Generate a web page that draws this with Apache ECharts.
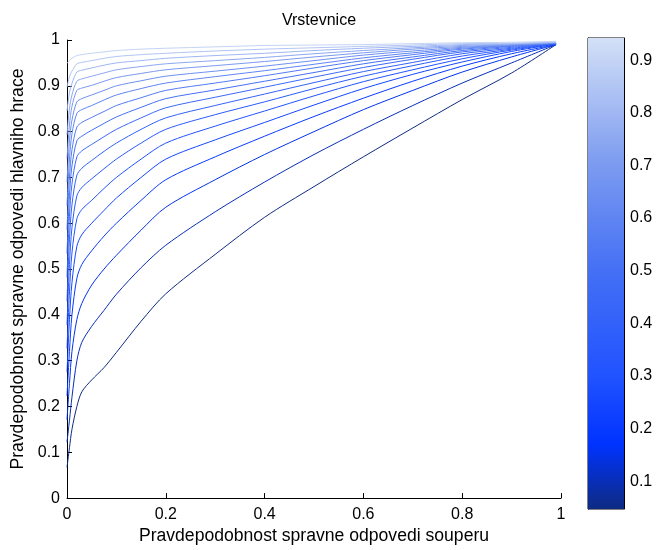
<!DOCTYPE html>
<html>
<head>
<meta charset="utf-8">
<title>Vrstevnice</title>
<script src="https://cdn.jsdelivr.net/npm/echarts@6/dist/echarts.min.js"></script>
<style>
  html, body { margin: 0; padding: 0; background: #fff; }
  #chart { width: 662px; height: 550px; }
</style>
</head>
<body>
<div id="chart"></div>
<script>
// x positions shared by all contour lines (opponent's probability)
var qGrid = [0, 0.005, 0.01, 0.02, 0.03, 0.05, 0.075, 0.1, 0.15, 0.2, 0.3, 0.4, 0.5, 0.6, 0.7, 0.8, 0.9, 0.99];

// contour levels, lowest (dark) to highest (light)
var levels = [0.05, 0.10, 0.15, 0.20, 0.25, 0.30, 0.35, 0.40, 0.45, 0.50, 0.55, 0.60, 0.65, 0.70, 0.75, 0.80, 0.85, 0.90];

// main player's probability along each contour
var line01 = [0.067, 0.11, 0.15, 0.20, 0.232, 0.258, 0.285, 0.318, 0.386, 0.446, 0.532, 0.613, 0.68, 0.745, 0.808, 0.87, 0.928, 0.99];
var line02 = [0.122, 0.17, 0.22, 0.30, 0.34, 0.375, 0.41, 0.445, 0.503, 0.552, 0.625, 0.69, 0.75, 0.805, 0.857, 0.906, 0.95, 0.99];
var line03 = [0.171, 0.25, 0.32, 0.39, 0.425, 0.465, 0.50, 0.53, 0.585, 0.635, 0.695, 0.75, 0.80, 0.848, 0.89, 0.93, 0.963, 0.99];
var line04 = [0.223, 0.32, 0.40, 0.48, 0.51, 0.54, 0.572, 0.60, 0.65, 0.695, 0.745, 0.79, 0.833, 0.873, 0.91, 0.943, 0.97, 0.99];
var line05 = [0.275, 0.39, 0.47, 0.55, 0.575, 0.60, 0.628, 0.655, 0.70, 0.74, 0.782, 0.82, 0.858, 0.894, 0.925, 0.952, 0.975, 0.991];
var line06 = [0.327, 0.45, 0.535, 0.61, 0.63, 0.65, 0.676, 0.70, 0.74, 0.775, 0.812, 0.845, 0.878, 0.909, 0.935, 0.959, 0.978, 0.991];
var line07 = [0.378, 0.51, 0.59, 0.66, 0.678, 0.697, 0.719, 0.74, 0.775, 0.805, 0.837, 0.865, 0.894, 0.921, 0.944, 0.965, 0.98, 0.992];
var line08 = [0.430, 0.565, 0.64, 0.705, 0.72, 0.737, 0.757, 0.775, 0.805, 0.83, 0.857, 0.882, 0.907, 0.931, 0.951, 0.970, 0.982, 0.992];
var line09 = [0.482, 0.615, 0.685, 0.745, 0.758, 0.772, 0.789, 0.805, 0.83, 0.852, 0.875, 0.897, 0.919, 0.94, 0.958, 0.974, 0.984, 0.992];
var line10 = [0.534, 0.66, 0.725, 0.78, 0.79, 0.803, 0.818, 0.832, 0.853, 0.872, 0.891, 0.91, 0.929, 0.948, 0.963, 0.977, 0.986, 0.993];
var line11 = [0.586, 0.70, 0.76, 0.81, 0.82, 0.831, 0.844, 0.857, 0.874, 0.89, 0.906, 0.922, 0.939, 0.955, 0.968, 0.980, 0.987, 0.993];
var line12 = [0.638, 0.74, 0.795, 0.84, 0.848, 0.857, 0.869, 0.88, 0.894, 0.906, 0.92, 0.933, 0.947, 0.961, 0.972, 0.982, 0.988, 0.993];
var line13 = [0.690, 0.78, 0.825, 0.865, 0.872, 0.88, 0.89, 0.90, 0.911, 0.921, 0.932, 0.943, 0.955, 0.967, 0.976, 0.984, 0.989, 0.994];
var line14 = [0.741, 0.815, 0.855, 0.89, 0.895, 0.901, 0.91, 0.918, 0.927, 0.935, 0.944, 0.953, 0.963, 0.972, 0.98, 0.986, 0.99, 0.994];
var line15 = [0.793, 0.85, 0.88, 0.91, 0.915, 0.921, 0.928, 0.935, 0.942, 0.948, 0.955, 0.962, 0.97, 0.977, 0.983, 0.988, 0.991, 0.995];
var line16 = [0.845, 0.885, 0.905, 0.93, 0.934, 0.939, 0.945, 0.95, 0.955, 0.96, 0.966, 0.971, 0.977, 0.982, 0.986, 0.99, 0.992, 0.995];
var line17 = [0.897, 0.92, 0.932, 0.948, 0.951, 0.955, 0.96, 0.964, 0.968, 0.971, 0.976, 0.98, 0.983, 0.986, 0.989, 0.992, 0.993, 0.996];
var line18 = [0.949, 0.955, 0.96, 0.966, 0.968, 0.971, 0.974, 0.977, 0.98, 0.982, 0.985, 0.988, 0.989, 0.990, 0.992, 0.994, 0.995, 0.997];

var contourLines = [line01, line02, line03, line04, line05, line06, line07, line08, line09,
  line10, line11, line12, line13, line14, line15, line16, line17, line18];

// colour bar range and ticks
var cbMin = 0.047;
var cbMax = 0.942;
var cbTicks = [0.1, 0.2, 0.3, 0.4, 0.5, 0.6, 0.7, 0.8, 0.9];

// blue colormap stops
var cmap = [
  [0.047, [14, 43, 130]],
  [0.17, [0, 51, 255]],
  [0.3, [33, 83, 255]],
  [0.5, [68, 112, 245]],
  [0.7, [123, 154, 240]],
  [0.942, [211, 224, 246]]
];

function cmapColor(v) {
  if (v <= cmap[0][0]) return 'rgb(' + cmap[0][1].join(',') + ')';
  for (var i = 1; i < cmap.length; i++) {
    if (v <= cmap[i][0]) {
      var a = cmap[i - 1], b = cmap[i];
      var t = (v - a[0]) / (b[0] - a[0]);
      var c = [0, 1, 2].map(function (k) { return Math.round(a[1][k] + t * (b[1][k] - a[1][k])); });
      return 'rgb(' + c.join(',') + ')';
    }
  }
  return 'rgb(' + cmap[cmap.length - 1][1].join(',') + ')';
}

var font = 'Liberation Sans, Arial, Helvetica, sans-serif';
var fmt = function (v) { return String(Math.round(v * 10) / 10); };

var series = contourLines.map(function (p, i) {
  return {
    type: 'line',
    xAxisIndex: 0,
    yAxisIndex: 0,
    symbol: 'none',
    smooth: 0.3,
    lineStyle: { width: 1, color: cmapColor(levels[i]) },
    data: qGrid.map(function (q, j) { return [q, p[j]]; })
  };
});

// colour bar: transparent base plus gradient bar up to cbMax
var gradStops = cmap.map(function (s) {
  return { offset: (cbMax - s[0]) / (cbMax - cbMin), color: 'rgb(' + s[1].join(',') + ')' };
}).reverse();

series.push({
  type: 'bar', xAxisIndex: 1, yAxisIndex: 1, stack: 'cb', barWidth: '100%',
  itemStyle: { color: 'transparent' }, data: [cbMin]
});
series.push({
  type: 'bar', xAxisIndex: 1, yAxisIndex: 1, stack: 'cb', barWidth: '100%',
  itemStyle: { color: new echarts.graphic.LinearGradient(0, 0, 0, 1, gradStops) },
  data: [cbMax - cbMin]
});

var option = {
  animation: false,
  backgroundColor: '#fff',
  title: {
    text: 'Vrstevnice',
    left: 314,
    textAlign: 'center',
    top: 8,
    textStyle: { fontFamily: font, fontSize: 16, fontWeight: 'normal', color: '#000' }
  },
  grid: [
    { left: 67, top: 40, right: 101, bottom: 49 },
    { left: 588, top: 38, width: 36, height: 471, show: true, borderColor: '#000', borderWidth: 1, backgroundColor: 'transparent' }
  ],
  xAxis: [
    {
      gridIndex: 0, type: 'value', min: 0, max: 1, interval: 0.2,
      name: 'Pravdepodobnost spravne odpovedi souperu',
      nameLocation: 'middle', nameGap: 26,
      nameTextStyle: { fontFamily: font, fontSize: 17.6, color: '#000' },
      axisLine: { lineStyle: { color: '#000', width: 1 } },
      axisTick: { inside: true, length: 5, lineStyle: { color: '#000' } },
      axisLabel: { fontFamily: font, fontSize: 16, color: '#000', margin: 8, formatter: fmt },
      splitLine: { show: false }
    },
    {
      gridIndex: 1, type: 'category', data: ['cb'], show: false
    }
  ],
  yAxis: [
    {
      gridIndex: 0, type: 'value', min: 0, max: 1, interval: 0.1,
      name: 'Pravdepodobnost spravne odpovedi hlavniho hrace',
      nameLocation: 'middle', nameGap: 37, nameRotate: 90,
      nameTextStyle: { fontFamily: font, fontSize: 17.6, color: '#000' },
      axisLine: { lineStyle: { color: '#000', width: 1 } },
      axisTick: { inside: true, length: 5, lineStyle: { color: '#000' } },
      axisLabel: { fontFamily: font, fontSize: 16, color: '#000', margin: 7, formatter: fmt },
      splitLine: { show: false }
    },
    {
      gridIndex: 1, type: 'value', min: cbMin, max: cbMax, position: 'right',
      axisLine: { show: true, lineStyle: { color: '#000' } },
      axisTick: { inside: true, length: 4, customValues: cbTicks, lineStyle: { color: '#000' } },
      axisLabel: { fontFamily: font, fontSize: 16, color: '#000', margin: 6, customValues: cbTicks, formatter: fmt },
      splitLine: { show: false }
    },
    {
      gridIndex: 1, type: 'value', min: cbMin, max: cbMax, position: 'left',
      axisLine: { show: true, lineStyle: { color: '#000' } },
      axisTick: { inside: true, length: 4, customValues: cbTicks, lineStyle: { color: '#000' } },
      axisLabel: { show: false },
      splitLine: { show: false }
    }
  ],
  series: series
};

var chart = echarts.init(document.getElementById('chart'));
chart.setOption(option);
</script>
</body>
</html>
